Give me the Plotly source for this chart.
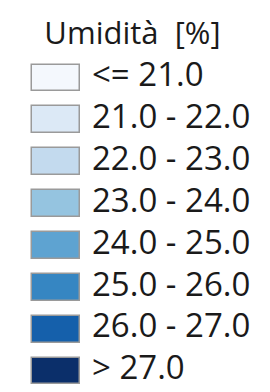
import plotly.graph_objects as go

title_text = "Umidità  [%]"
class_labels = ["<= 21.0", "21.0 - 22.0", "22.0 - 23.0", "23.0 - 24.0",
                "24.0 - 25.0", "25.0 - 26.0", "26.0 - 27.0", "> 27.0"]
class_colors = ["#f4f8fd", "#dce9f6", "#c3daee", "#95c4e0",
                "#5ea3d1", "#3686c2", "#1560ab", "#0b2f6a"]
swatch_length = [1] * len(class_labels)
rows = list(range(len(class_labels)))

fig = go.Figure()
fig.add_trace(go.Bar(
    x=swatch_length, y=rows, orientation="h", width=0.64,
    marker=dict(color=class_colors, line=dict(color="#9a9a9a", width=1.5)),
    hoverinfo="skip", showlegend=False,
))
fig.add_trace(go.Scatter(
    x=[1.25] * len(class_labels), y=rows, mode="text", text=class_labels,
    textposition="middle right",
    textfont=dict(family="Open Sans", size=33, color="#1a1a1a"),
    hoverinfo="skip", showlegend=False, cliponaxis=False,
))
fig.update_layout(
    width=270, height=392,
    margin=dict(l=0, r=0, t=0, b=0),
    paper_bgcolor="white", plot_bgcolor="white",
    xaxis=dict(range=[-0.5, 5.125], visible=False, fixedrange=True),
    yaxis=dict(range=[7.692, -1.672], visible=False, fixedrange=True),
    title=dict(text=title_text, x=0.461, xanchor="center", y=1 - 25 / 392,
               yanchor="middle",
               font=dict(family="Open Sans", size=31, color="#1a1a1a")),
    bargap=0,
)
fig.write_html("out.html")
